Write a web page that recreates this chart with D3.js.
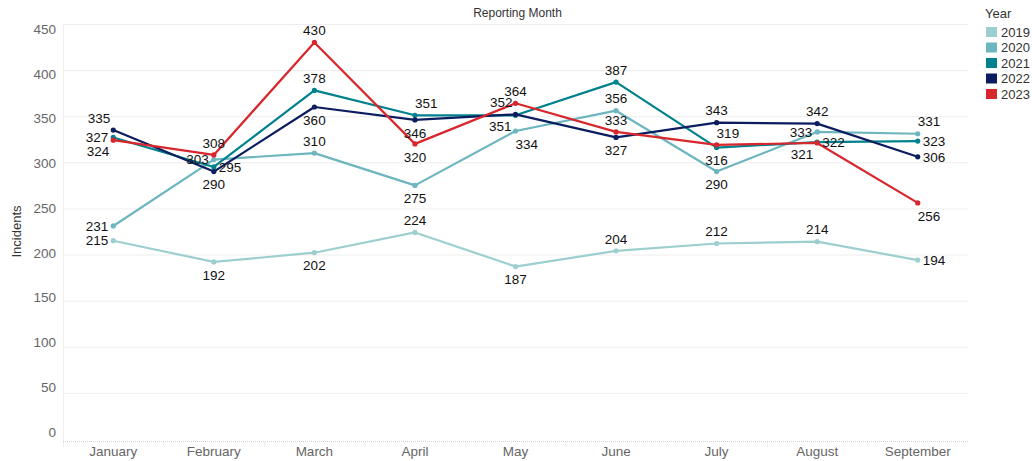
<!DOCTYPE html>
<html>
<head>
<meta charset="utf-8">
<script src="https://cdn.jsdelivr.net/npm/d3@7"></script>
<style>
  body { margin: 0; background: #fff; }
  svg { font-family: "Liberation Sans", Arial, sans-serif; }
</style>
</head>
<body>
<svg id="chart" width="1032" height="461"></svg>
<script>
"use strict";

let width = 1032;
let height = 461;

// Data
let months = ["January", "February", "March", "April", "May", "June", "July", "August", "September"];
let years = ["2019", "2020", "2021", "2022", "2023"];
let yTicks = [0, 50, 100, 150, 200, 250, 300, 350, 400, 450];

let values2019 = [215, 192, 202, 224, 187, 204, 212, 214, 194];
let values2020 = [231, 303, 310, 275, 334, 356, 290, 333, 331];
let values2021 = [327, 295, 378, 351, 351, 387, 316, 322, 323];
let values2022 = [335, 290, 360, 346, 352, 327, 343, 342, 306];
let values2023 = [324, 308, 430, 320, 364, 333, 319, 321, 256];

// where each value label sits relative to its point
let place2019 = ["l", "b", "b", "t", "b", "t", "t", "t", "r"];
let place2020 = ["l", "l", "t", "b", "br", "t", "b", "l", "tr"];
let place2021 = ["l", "r", "t", "tr", "bl", "t", "b", "r", "r"];
let place2022 = ["tl", "b", "b", "b", "tl", "b", "t", "t", "r"];
let place2023 = ["bl", "t", "t", "b", "t", "t", "tr", "bl", "br"];

let colors = ["#9dcfd0", "#6db5bf", "#00818d", "#0b1d5e", "#d8262d"];

let series = [
    {year: years[0], values: values2019, place: place2019, color: colors[0]},
    {year: years[1], values: values2020, place: place2020, color: colors[1]},
    {year: years[2], values: values2021, place: place2021, color: colors[2]},
    {year: years[3], values: values2022, place: place2022, color: colors[3]},
    {year: years[4], values: values2023, place: place2023, color: colors[4]}
];

let margin = {left: 63, right: 64, top: 24, bottom: 22};
let plotRight = width - margin.right;
let plotBottom = height - margin.bottom;

let svg = d3.select('#chart');

let x = d3.scaleBand()
    .domain(months)
    .range([margin.left, plotRight]);

let y = d3.scaleLinear()
    .domain([0, 450])
    .range([plotBottom, margin.top]);

// tick labels sit slightly inside the grid
let yLabel = d3.scaleLinear()
    .domain([0, 450])
    .range([plotBottom - 7, margin.top + 5]);

// Gridlines
svg.append("g")
    .selectAll("line")
    .data(yTicks.filter(d => d > 0))
    .enter()
    .append("line")
    .attr("x1", margin.left)
    .attr("x2", plotRight)
    .attr("y1", d => y(d) + 0.5)
    .attr("y2", d => y(d) + 0.5)
    .style("stroke", "#eeeeee")
    .style("stroke-width", 1);

svg.append("line")
    .attr("x1", margin.left + 0.5)
    .attr("x2", margin.left + 0.5)
    .attr("y1", margin.top)
    .attr("y2", plotBottom + 2)
    .style("stroke", "#eeeeee");

// X axis baseline
svg.append("line")
    .attr("x1", margin.left)
    .attr("x2", plotRight)
    .attr("y1", plotBottom + 2.5)
    .attr("y2", plotBottom + 2.5)
    .style("stroke", "#d4d4d4")
    .style("stroke-dasharray", "1,1");

// band separators
svg.append("g")
    .selectAll("line")
    .data(months)
    .enter()
    .append("line")
    .attr("x1", d => x(d) + 0.5)
    .attr("x2", d => x(d) + 0.5)
    .attr("y1", plotBottom + 3)
    .attr("y2", plotBottom + 8)
    .style("stroke", "#eeeeee");

// X labels
svg.append("g")
    .selectAll("text")
    .data(months)
    .enter()
    .append("text")
    .attr("x", d => x(d) + x.bandwidth() / 2)
    .attr("y", plotBottom + 17)
    .attr("text-anchor", "middle")
    .style("font-size", "13.5px")
    .style("fill", "#666")
    .text(d => d);

// Y labels
svg.append("g")
    .selectAll("text")
    .data(yTicks)
    .enter()
    .append("text")
    .attr("x", 56)
    .attr("y", d => yLabel(d))
    .attr("dy", "0.35em")
    .attr("text-anchor", "end")
    .style("font-size", "13.5px")
    .style("fill", "#666")
    .text(d => d);

// Titles
svg.append("text")
    .attr("x", (margin.left + plotRight) / 2 + 2)
    .attr("y", 17)
    .attr("text-anchor", "middle")
    .style("font-size", "12px")
    .style("fill", "#333")
    .text("Reporting Month");

svg.append("text")
    .attr("transform", `translate(21, ${(margin.top + plotBottom) / 2}) rotate(-90)`)
    .attr("text-anchor", "middle")
    .style("font-size", "13px")
    .style("fill", "#333")
    .text("Incidents");

// Lines
let cx = (d, i) => x(months[i]) + x.bandwidth() / 2;
let line = d3.line()
    .x(cx)
    .y(d => y(d));

let groups = svg.append("g")
    .selectAll("g")
    .data(series)
    .enter()
    .append("g");

groups.append("path")
    .attr("d", d => line(d.values))
    .style("fill", "none")
    .style("stroke", d => d.color)
    .style("stroke-width", 2.2)
    .style("stroke-linejoin", "round");

groups.selectAll("circle")
    .data(d => d.values.map(v => ({v: v, color: d.color})))
    .enter()
    .append("circle")
    .attr("cx", (d, i) => cx(d.v, i))
    .attr("cy", d => y(d.v))
    .attr("r", 2.6)
    .style("fill", d => d.color);

// Value labels
let offsets = {
    t:  {anchor: "middle", dx: 0,  dy: -12},
    b:  {anchor: "middle", dx: 0,  dy: 13},
    l:  {anchor: "end",    dx: -5, dy: 0},
    r:  {anchor: "start",  dx: 5,  dy: 0},
    tl: {anchor: "end",    dx: -3, dy: -12},
    tr: {anchor: "start",  dx: 0,  dy: -12},
    bl: {anchor: "end",    dx: -4, dy: 11},
    br: {anchor: "start",  dx: 0,  dy: 13}
};

let labelLayer = svg.append("g");
series.forEach(s => {
    s.values.forEach((v, i) => {
        let o = offsets[s.place[i]];
        labelLayer.append("text")
            .attr("x", cx(v, i) + o.dx)
            .attr("y", y(v) + o.dy)
            .attr("dy", "0.35em")
            .attr("text-anchor", o.anchor)
            .style("font-size", "13.5px")
            .style("fill", "#111")
            .text(v);
    });
});

// Legend
let legend = svg.append("g")
    .attr("transform", "translate(985, 0)");

legend.append("text")
    .attr("x", 0)
    .attr("y", 18)
    .style("font-size", "13px")
    .style("fill", "#333")
    .text("Year");

let rows = legend.selectAll("g.row")
    .data(series)
    .enter()
    .append("g")
    .attr("class", "row")
    .attr("transform", (d, i) => `translate(1, ${27 + i * 15.5})`);

rows.append("rect")
    .attr("width", 11)
    .attr("height", 10)
    .style("fill", d => d.color);

rows.append("text")
    .attr("x", 15)
    .attr("y", 5)
    .attr("dy", "0.35em")
    .style("font-size", "13px")
    .style("fill", "#333")
    .text(d => d.year);
</script>
</body>
</html>
